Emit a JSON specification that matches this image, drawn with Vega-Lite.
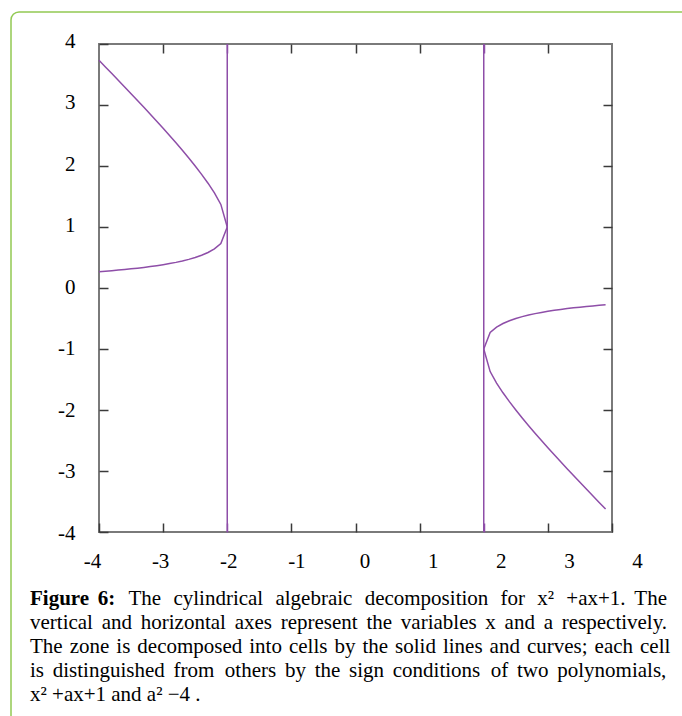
{
  "$schema": "https://vega.github.io/schema/vega-lite/v6.json",
  "width": 513,
  "height": 488,
  "autosize": {"type": "none"},
  "padding": {"left": 99, "top": 44, "right": 70, "bottom": 184},
  "background": "white",
  "config": {
    "view": {"stroke": "#7a7a7a", "strokeWidth": 2},
    "font": "Liberation Serif"
  },
  "layer": [
    {
      "data": {"values": [{"box": "page"}]},
      "mark": {"type": "rect", "filled": false, "color": "#92c953", "strokeWidth": 1.5, "cornerRadius": 8},
      "encoding": {
        "x": {"value": -88},
        "y": {"value": -32},
        "x2": {"value": 700},
        "y2": {"value": 760}
      }
    },
    {
      "layer": [
        {
          "data": {
            "values": [
              {"branch": "LU", "a": -4.0, "x": 3.7321}, {"branch": "LU", "a": -3.9, "x": 3.6241}, {"branch": "LU", "a": -3.8, "x": 3.5156}, {"branch": "LU", "a": -3.7, "x": 3.4064}, {"branch": "LU", "a": -3.6, "x": 3.2967}, {"branch": "LU", "a": -3.5, "x": 3.1861}, {"branch": "LU", "a": -3.4, "x": 3.0748}, {"branch": "LU", "a": -3.3, "x": 2.9624}, {"branch": "LU", "a": -3.2, "x": 2.849}, {"branch": "LU", "a": -3.1, "x": 2.7343}, {"branch": "LU", "a": -3.0, "x": 2.618}, {"branch": "LU", "a": -2.9, "x": 2.5}, {"branch": "LU", "a": -2.8, "x": 2.3798}, {"branch": "LU", "a": -2.7, "x": 2.2569}, {"branch": "LU", "a": -2.6, "x": 2.1307}, {"branch": "LU", "a": -2.5, "x": 2.0}, {"branch": "LU", "a": -2.4, "x": 1.8633}, {"branch": "LU", "a": -2.3, "x": 1.7179}, {"branch": "LU", "a": -2.2, "x": 1.5583}, {"branch": "LU", "a": -2.1, "x": 1.3702}, {"branch": "LU", "a": -2.0, "x": 1.0},
              {"branch": "LL", "a": -4.0, "x": 0.2679}, {"branch": "LL", "a": -3.9, "x": 0.2759}, {"branch": "LL", "a": -3.8, "x": 0.2844}, {"branch": "LL", "a": -3.7, "x": 0.2936}, {"branch": "LL", "a": -3.6, "x": 0.3033}, {"branch": "LL", "a": -3.5, "x": 0.3139}, {"branch": "LL", "a": -3.4, "x": 0.3252}, {"branch": "LL", "a": -3.3, "x": 0.3376}, {"branch": "LL", "a": -3.2, "x": 0.351}, {"branch": "LL", "a": -3.1, "x": 0.3657}, {"branch": "LL", "a": -3.0, "x": 0.382}, {"branch": "LL", "a": -2.9, "x": 0.4}, {"branch": "LL", "a": -2.8, "x": 0.4202}, {"branch": "LL", "a": -2.7, "x": 0.4431}, {"branch": "LL", "a": -2.6, "x": 0.4693}, {"branch": "LL", "a": -2.5, "x": 0.5}, {"branch": "LL", "a": -2.4, "x": 0.5367}, {"branch": "LL", "a": -2.3, "x": 0.5821}, {"branch": "LL", "a": -2.2, "x": 0.6417}, {"branch": "LL", "a": -2.1, "x": 0.7298}, {"branch": "LL", "a": -2.0, "x": 1.0},
              {"branch": "RU", "a": 2.0, "x": -1.0}, {"branch": "RU", "a": 2.1, "x": -0.7298}, {"branch": "RU", "a": 2.2, "x": -0.6417}, {"branch": "RU", "a": 2.3, "x": -0.5821}, {"branch": "RU", "a": 2.4, "x": -0.5367}, {"branch": "RU", "a": 2.5, "x": -0.5}, {"branch": "RU", "a": 2.6, "x": -0.4693}, {"branch": "RU", "a": 2.7, "x": -0.4431}, {"branch": "RU", "a": 2.8, "x": -0.4202}, {"branch": "RU", "a": 2.9, "x": -0.4}, {"branch": "RU", "a": 3.0, "x": -0.382}, {"branch": "RU", "a": 3.1, "x": -0.3657}, {"branch": "RU", "a": 3.2, "x": -0.351}, {"branch": "RU", "a": 3.3, "x": -0.3376}, {"branch": "RU", "a": 3.4, "x": -0.3252}, {"branch": "RU", "a": 3.5, "x": -0.3139}, {"branch": "RU", "a": 3.6, "x": -0.3033}, {"branch": "RU", "a": 3.7, "x": -0.2936}, {"branch": "RU", "a": 3.8, "x": -0.2844}, {"branch": "RU", "a": 3.9, "x": -0.2759},
              {"branch": "RL", "a": 2.0, "x": -1.0}, {"branch": "RL", "a": 2.1, "x": -1.3702}, {"branch": "RL", "a": 2.2, "x": -1.5583}, {"branch": "RL", "a": 2.3, "x": -1.7179}, {"branch": "RL", "a": 2.4, "x": -1.8633}, {"branch": "RL", "a": 2.5, "x": -2.0}, {"branch": "RL", "a": 2.6, "x": -2.1307}, {"branch": "RL", "a": 2.7, "x": -2.2569}, {"branch": "RL", "a": 2.8, "x": -2.3798}, {"branch": "RL", "a": 2.9, "x": -2.5}, {"branch": "RL", "a": 3.0, "x": -2.618}, {"branch": "RL", "a": 3.1, "x": -2.7343}, {"branch": "RL", "a": 3.2, "x": -2.849}, {"branch": "RL", "a": 3.3, "x": -2.9624}, {"branch": "RL", "a": 3.4, "x": -3.0748}, {"branch": "RL", "a": 3.5, "x": -3.1861}, {"branch": "RL", "a": 3.6, "x": -3.2967}, {"branch": "RL", "a": 3.7, "x": -3.4064}, {"branch": "RL", "a": 3.8, "x": -3.5156}, {"branch": "RL", "a": 3.9, "x": -3.6241}
            ]
          },
          "mark": {"type": "line", "color": "#8e4ea8", "strokeWidth": 1.5},
          "encoding": {
            "x": {
              "field": "a", "type": "quantitative",
              "scale": {"domain": [-4, 4], "nice": false, "zero": false},
              "axis": {
                "orient": "bottom", "values": [-4, -3, -2, -1, 0, 1, 2, 3, 4],
                "title": null, "grid": false, "domain": false,
                "tickColor": {"expr": "abs(datum.value) == 2 ? '#8e4ea8' : '#3a3a3a'"},
                "tickWidth": 1.5, "tickSize": -9,
                "labelFont": "Liberation Serif", "labelFontSize": 21, "labelColor": "#000000",
                "labelPadding": 27, "labelOffset": {"expr": "-7 + 4 * (datum.value + 4)"},
                "labelFlush": false, "labelOverlap": false, "labelExpr": "'' + datum.value"
              }
            },
            "y": {
              "field": "x", "type": "quantitative",
              "scale": {"domain": [-4, 4], "nice": false, "zero": false},
              "axis": {
                "orient": "left", "values": [-4, -3, -2, -1, 0, 1, 2, 3, 4],
                "title": null, "grid": false, "domain": false,
                "tickColor": "#3a3a3a", "tickWidth": 1.5, "tickSize": -9,
                "labelFont": "Liberation Serif", "labelFontSize": 21, "labelColor": "#000000",
                "labelPadding": 33, "labelOffset": {"expr": "-1 - 0.5 * datum.value"},
                "labelFlush": false, "labelOverlap": false, "labelExpr": "'' + datum.value"
              }
            },
            "detail": {"field": "branch"}
          }
        },
        {
          "data": {"values": [{"a": -2, "lo": -4, "hi": 4}, {"a": 2, "lo": -4, "hi": 4}]},
          "mark": {"type": "rule", "color": "#8e4ea8", "strokeWidth": 1.5},
          "encoding": {
            "x": {
              "field": "a", "type": "quantitative",
              "axis": {
                "orient": "top", "values": [-3, -2, -1, 0, 1, 2, 3],
                "title": null, "grid": false, "domain": false, "labels": false,
                "tickColor": {"expr": "abs(datum.value) == 2 ? '#8e4ea8' : '#3a3a3a'"},
                "tickWidth": 1.5, "tickSize": -9
              }
            },
            "y": {
              "field": "lo", "type": "quantitative",
              "axis": {
                "orient": "right", "values": [-3, -2, -1, 0, 1, 2, 3],
                "title": null, "grid": false, "domain": false, "labels": false,
                "tickColor": "#3a3a3a", "tickWidth": 1.5, "tickSize": -9
              }
            },
            "y2": {"field": "hi"}
          }
        }
      ],
      "resolve": {"axis": {"x": "independent", "y": "independent"}}
    },
    {
      "data": {
        "values": [
          {"line": 1, "part": "label", "text": "Figure \u20066:"},
          {"line": 1, "part": "end", "text": "The \u2004cylindrical \u2004algebraic \u2004decomposition \u2004for \u2004x² \u2004+ax+1. \u2006The"},
          {"line": 2, "part": "start", "text": "vertical \u2006and \u2006horizontal \u2006axes \u2006represent \u2006the \u2006variables \u2006x \u2006and \u2006a \u2006respectively."},
          {"line": 3, "part": "start", "text": "The \u200Azone \u200Ais \u200Adecomposed \u200Ainto \u200Acells \u200Aby \u200Athe \u200Asolid \u200Alines \u200Aand \u200Acurves; \u200Aeach \u200Acell"},
          {"line": 4, "part": "start", "text": "is \u2006distinguished \u2006from \u2005others \u2006by \u2006the \u2006sign \u2006conditions \u2005of \u2006two \u2006polynomials,"},
          {"line": 5, "part": "start", "text": "x² +ax+1 and a² −4 ."}
        ]
      },
      "encoding": {
        "y": {"field": "line", "type": "quantitative", "scale": {"domain": [1, 5], "range": [561, 657]}, "axis": null},
        "text": {"field": "text"}
      },
      "layer": [
        {
          "transform": [{"filter": "datum.part == 'label'"}],
          "mark": {"type": "text", "align": "left", "baseline": "alphabetic", "font": "Liberation Serif", "fontSize": 21, "fontWeight": "bold", "color": "#000000"},
          "encoding": {"x": {"value": -69}}
        },
        {
          "transform": [{"filter": "datum.part == 'start'"}],
          "mark": {"type": "text", "align": "left", "baseline": "alphabetic", "font": "Liberation Serif", "fontSize": 21, "color": "#000000"},
          "encoding": {"x": {"value": -69}}
        },
        {
          "transform": [{"filter": "datum.part == 'end'"}],
          "mark": {"type": "text", "align": "right", "baseline": "alphabetic", "font": "Liberation Serif", "fontSize": 21, "color": "#000000"},
          "encoding": {"x": {"value": 568}}
        }
      ]
    }
  ],
  "resolve": {"scale": {"y": "independent"}}
}
